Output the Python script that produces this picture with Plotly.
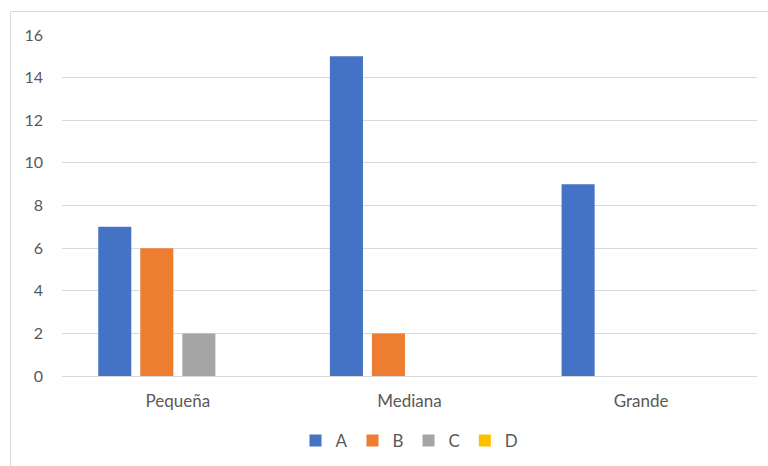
import plotly.graph_objects as go

# Category labels and series values
categories = ["Pequeña", "Mediana", "Grande"]
series_names = ["A", "B", "C", "D"]
values_a = [7, 15, 9]
values_b = [6, 2, 0]
values_c = [2, 0, 0]
values_d = [0, 0, 0]
y_ticks = [0, 2, 4, 6, 8, 10, 12, 14, 16]

colors = ["#4472C4", "#ED7D31", "#A5A5A5", "#FFC000"]
font_family = "Lato, 'Open Sans', sans-serif"
text_color = "#595959"
grid_color = "#D9D9D9"

fig = go.Figure()
for name, vals, col in zip(series_names, [values_a, values_b, values_c, values_d], colors):
    fig.add_trace(go.Bar(x=categories, y=vals, name=name, marker_color=col,
                         marker_line_width=0))

fig.update_layout(
    width=768, height=466,
    margin=dict(l=62, r=11, t=35, b=90, autoexpand=False),
    paper_bgcolor="white", plot_bgcolor="white",
    barmode="group", bargap=0.274, bargroupgap=0.214,
    font=dict(family=font_family, size=17, color=text_color),
    showlegend=True,
    legend=dict(orientation="h", x=0.5, xanchor="center",
                yref="container", y=0.054, yanchor="middle",
                font=dict(size=17, color=text_color), itemwidth=30,
                traceorder="normal"),
    xaxis=dict(showgrid=False, showline=True, linecolor=grid_color, linewidth=1,
               ticks="", ticklabelstandoff=10, tickfont=dict(size=17, color=text_color)),
    yaxis=dict(range=[0, 16], tickvals=y_ticks, showgrid=True, gridcolor=grid_color,
               gridwidth=1, zeroline=False, showline=False, ticks="",
               ticklabelstandoff=18, tickfont=dict(size=16, color=text_color)),
    shapes=[
        dict(type="line", xref="paper", yref="paper", x0=-0.0741, x1=-0.0741,
             y0=1.0689, y1=-0.27, line=dict(color=grid_color, width=1)),
        dict(type="line", xref="paper", yref="paper", x0=-0.0741, x1=1.02,
             y0=1.0689, y1=1.0689, line=dict(color=grid_color, width=1)),
    ],
)

fig.write_html("out.html")
